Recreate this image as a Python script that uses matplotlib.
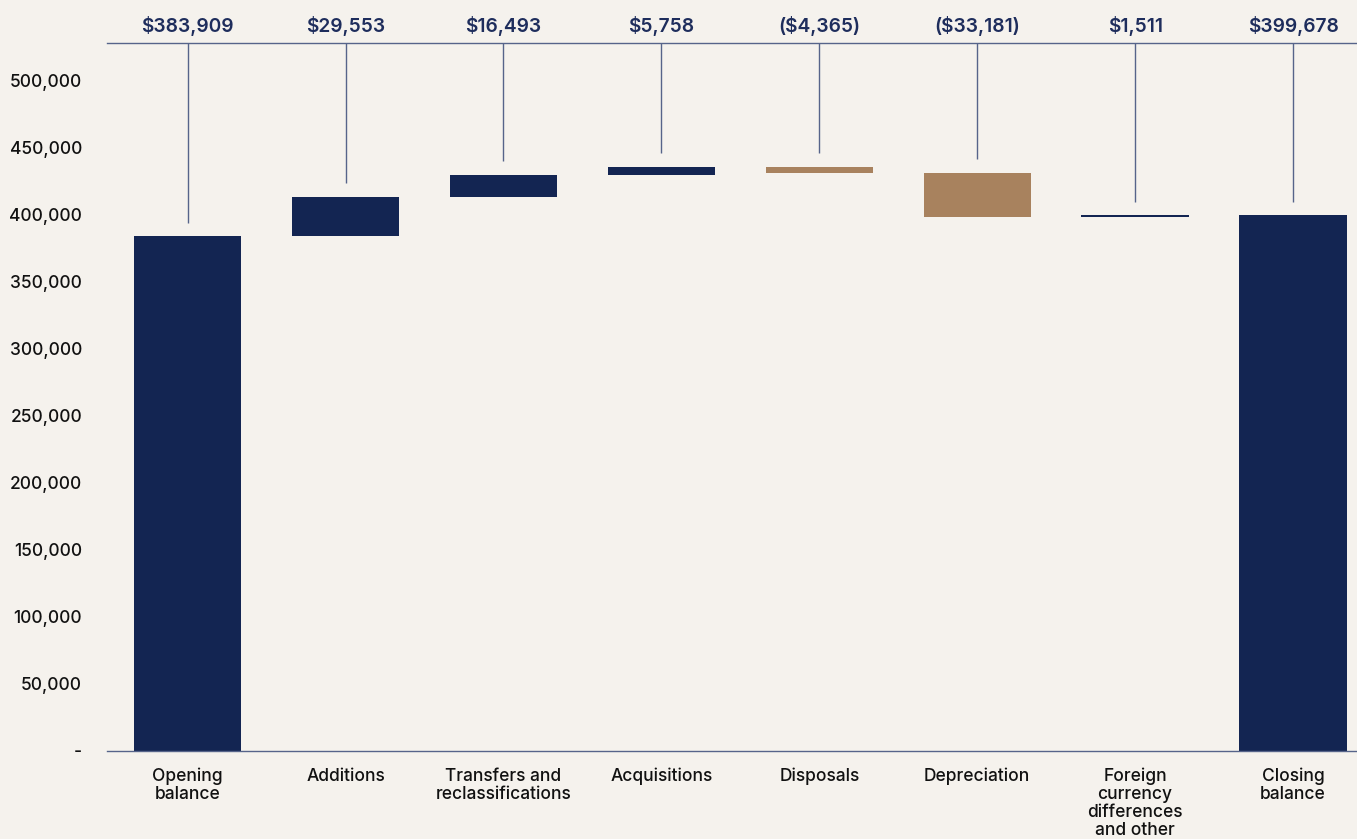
import matplotlib.pyplot as plt
import numpy as np

categories = ['Opening\nbalance', 'Additions', 'Transfers and\nreclassifications',
              'Acquisitions', 'Disposals', 'Depreciation',
              'Foreign\ncurrency\ndifferences\nand other', 'Closing\nbalance']
changes = [383909, 29553, 16493, 5758, -4365, -33181, 1511, 399678]
is_total = [True, False, False, False, False, False, False, True]
value_labels = ['$383,909', '$29,553', '$16,493', '$5,758', '($4,365)',
                '($33,181)', '$1,511', '$399,678']
yticks = [0, 50000, 100000, 150000, 200000, 250000, 300000, 350000, 400000, 450000, 500000]
ytick_labels = ['-', '50,000', '100,000', '150,000', '200,000', '250,000',
                '300,000', '350,000', '400,000', '450,000', '500,000']

BG = '#f5f2ed'
NAVY = '#132552'
TAN = '#a8825e'
LINE = '#56648a'

plt.rcParams['font.family'] = ['Inter', 'DejaVu Sans']

# waterfall bottoms / heights
bottoms, heights, colors = [], [], []
running = 0
for v, tot in zip(changes, is_total):
    if tot:
        bottoms.append(0)
        heights.append(v)
        running = v
        colors.append(NAVY)
    else:
        if v >= 0:
            bottoms.append(running)
            colors.append(NAVY)
        else:
            bottoms.append(running + v)
            colors.append(TAN)
        heights.append(abs(v))
        running += v
bottoms = np.array(bottoms)
heights = np.array(heights)
tops = bottoms + heights

fig = plt.figure(figsize=(13.57, 8.39), dpi=100, facecolor=BG)
ax = fig.add_axes([0.0789, 0.1049, 0.9211, 0.8438])
ax.set_facecolor(BG)

x = np.arange(len(categories))
ax.bar(x, heights, bottom=bottoms, width=0.68, color=colors, zorder=2)

ymax = 528000
ax.set_ylim(0, ymax)
ax.set_xlim(-0.51, 7.405)

# connector lines from top line to just above each bar
ax.vlines(x, tops + 10000, ymax, color=LINE, linewidth=1, zorder=1)

for xi, lab in zip(x, value_labels):
    ax.text(xi, ymax + 13000, lab, ha='center', va='center', fontsize=13.8,
            color='#1e2d5c', fontweight='semibold')

for s in ['left', 'right']:
    ax.spines[s].set_visible(False)
for s in ['top', 'bottom']:
    ax.spines[s].set_color(LINE)
    ax.spines[s].set_linewidth(1)

ax.set_yticks(yticks)
ax.set_yticklabels(ytick_labels, fontsize=12.5, color='#111111', fontweight='medium')
ax.set_xticks(x)
ax.set_xticklabels(categories, fontsize=12.5, color='#111111', fontweight='medium')
for t in ax.get_xticklabels():
    t.set_linespacing(1.08)
ax.tick_params(axis='both', length=0)
ax.tick_params(axis='y', pad=18)
ax.tick_params(axis='x', pad=12)

fig.savefig('out.png', dpi=100, facecolor=BG)
